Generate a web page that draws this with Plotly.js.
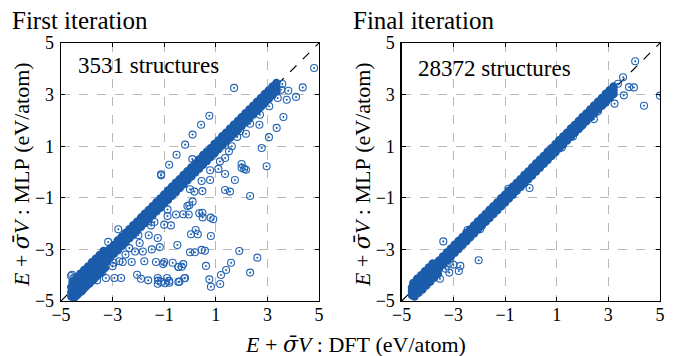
<!DOCTYPE html>
<html><head><meta charset="utf-8">
<script src="https://cdn.plot.ly/plotly-3.0.1.min.js"></script>
<style>html,body{margin:0;padding:0;background:#fff}</style>
</head><body><div id="chart" style="width:678px;height:356px"></div>
<script>
// ---- tick labels ----
const tickVals = [-5, -3, -1, 1, 3, 5];
const tickText = ['\u22125', '\u22123', '\u22121', '1', '3', '5'];

// ---- First iteration: dense diagonal band ----
const firstBandX = [-4.60,-4.45,-4.30,-4.15,-4.00,-3.85,-3.70,-3.55,-3.40,-3.25,-3.10,-2.95,-2.80,-2.65,-2.50,-2.35,-2.20,-2.05,-1.90,-1.75,-1.60,-1.45,-1.30,-1.15,-1.00,-0.85,-0.70,-0.55,-0.40,-0.25,-0.10,0.05,0.20,0.35,0.50,0.65,0.80,0.95,1.10,1.25,1.40,1.55,1.70,1.85,2.00,2.15,2.30,2.45,2.60,2.75,2.90,3.05,3.20,3.35];
const firstBandUpperY = [-4.46,-4.30,-4.15,-4.02,-3.86,-3.70,-3.56,-3.42,-3.27,-3.12,-2.97,-2.83,-2.66,-2.52,-2.37,-2.22,-2.07,-1.93,-1.77,-1.62,-1.47,-1.33,-1.17,-1.03,-0.87,-0.72,-0.57,-0.42,-0.28,-0.12,0.03,0.17,0.33,0.48,0.62,0.78,0.92,1.08,1.22,1.38,1.52,1.67,1.83,1.97,2.12,2.28,2.42,2.57,2.72,2.87,3.02,3.16,3.31,3.45];
const firstBandMidY = [-4.66,-4.50,-4.36,-4.20,-4.06,-3.90,-3.76,-3.60,-3.45,-3.31,-3.15,-3.00,-2.86,-2.70,-2.55,-2.41,-2.25,-2.10,-1.96,-1.80,-1.65,-1.51,-1.35,-1.20,-1.06,-0.90,-0.75,-0.61,-0.45,-0.30,-0.16,0.00,0.15,0.29,0.45,0.60,0.74,0.90,1.05,1.19,1.35,1.50,1.64,1.80,1.95,2.09,2.25,2.40,2.54,2.70,2.85,2.99,3.15,3.28];
const firstBandLowerY = [-4.82,-4.68,-4.52,-4.38,-4.22,-4.08,-3.92,-3.77,-3.62,-3.48,-3.32,-3.17,-3.03,-2.87,-2.72,-2.57,-2.43,-2.27,-2.12,-1.98,-1.82,-1.67,-1.52,-1.38,-1.22,-1.07,-0.92,-0.78,-0.62,-0.47,-0.32,-0.17,-0.02,0.13,0.28,0.43,0.58,0.73,0.88,1.03,1.18,1.33,1.48,1.63,1.78,1.93,2.08,2.23,2.38,2.53,2.68,2.83,2.98,3.12];
const firstBandX2 = [-4.53,-4.38,-4.23,-4.08,-3.93,-3.78,-3.63,-3.48,-3.33,-3.18,-3.03,-2.88,-2.73,-2.58,-2.43,-2.28,-2.13,-1.98,-1.83,-1.68,-1.53,-1.38,-1.23,-1.08,-0.93,-0.78,-0.63,-0.48,-0.33,-0.18,-0.03,0.12,0.27,0.42,0.57,0.72,0.87,1.02,1.17,1.32,1.47,1.62,1.77,1.92,2.07,2.22,2.37,2.52,2.67,2.82,2.97,3.12,3.27];
const firstBandUpperMidY = [-4.49,-4.34,-4.19,-4.04,-3.89,-3.74,-3.59,-3.44,-3.29,-3.14,-2.99,-2.84,-2.69,-2.54,-2.39,-2.24,-2.09,-1.94,-1.79,-1.64,-1.49,-1.34,-1.19,-1.04,-0.89,-0.74,-0.59,-0.44,-0.29,-0.14,0.01,0.16,0.31,0.46,0.61,0.76,0.91,1.06,1.21,1.36,1.51,1.66,1.81,1.96,2.11,2.26,2.41,2.56,2.71,2.86,3.01,3.16,3.31];
const firstBandLowerMidY = [-4.66,-4.51,-4.36,-4.21,-4.06,-3.91,-3.76,-3.61,-3.46,-3.31,-3.16,-3.01,-2.86,-2.71,-2.56,-2.41,-2.26,-2.11,-1.96,-1.81,-1.66,-1.51,-1.36,-1.21,-1.06,-0.91,-0.76,-0.61,-0.46,-0.31,-0.16,-0.01,0.14,0.29,0.44,0.59,0.74,0.89,1.04,1.19,1.34,1.49,1.64,1.79,1.94,2.09,2.24,2.39,2.54,2.69,2.84,2.99,3.14];
const firstLowEndX = [-4.50,-4.35,-4.20,-4.05,-3.90,-3.75,-3.60,-3.45,-3.30,-4.55,-4.40,-4.25,-4.10,-3.95,-3.80,-3.65,-3.50,-3.35,-4.42,-4.28,-4.12,-3.98,-3.82,-3.68,-3.52];
const firstLowEndY = [-4.88,-4.74,-4.62,-4.45,-4.32,-4.17,-4.02,-3.86,-3.72,-4.25,-4.08,-3.95,-3.80,-3.66,-3.50,-3.36,-3.22,-3.06,-4.80,-4.66,-4.52,-4.38,-4.22,-4.08,-3.94];

// ---- First iteration: scattered structures ----
const firstOutX = [1.71,4.81,4.37,4.11,3.81,3.58,3.53,3.75,3.40,3.07,3.62,3.36,3.06,2.71,2.69,2.33,2.17,1.83,1.94,1.62,1.51,1.36,1.16,2.78,2.97,2.00,2.17,1.10,0.75,0.43,0.10,-0.19,-0.52,-0.81,0.09,0.52,0.78,-1.12,2.00,2.10,1.74,1.36,1.36,1.55,2.33,0.78,0.45,0.48,0.17,0.00,0.10,-0.10,-0.26,0.48,0.49,0.90,0.81,0.22,0.04,0.30,-0.49,0.00,0.19,0.45,0.58,1.91,2.61,1.59,1.40,1.20,1.17,2.33,0.62,0.75,0.81,-0.26,-0.45,-0.22,-0.41,-0.81,-1.04,-1.23,-0.97,-3.17,-2.78,-2.00,-1.62,-1.25,-1.17,-1.48,-1.83,-2.13,-2.26,-2.61,-2.74,-2.96,-1.77,-1.32,-1.00,-0.67,-0.45,-2.05,-2.93,-3.26,-2.67,-1.90,-1.62,-1.25,-1.12,-1.25,-0.89,-0.80,-0.45,-0.19,-3.71,-4.12,-4.57,-4.61,-0.03,-0.05,-0.54,-0.87,-0.87,-0.74,-1.00,-1.38,-1.51,0.36,0.80,-0.32,-1.12,-2.35,-1.95,-1.60,-2.50,-3.00,-3.40,-3.90,-4.20,-3.60];
const firstOutY = [3.26,4.03,3.28,2.91,3.15,3.41,3.19,2.80,2.87,2.55,2.13,1.71,1.35,2.22,1.83,1.87,1.48,1.36,1.58,1.00,0.80,0.54,0.41,0.93,0.22,0.16,0.09,0.12,2.18,1.83,1.45,1.06,0.67,0.28,0.50,0.67,0.07,-0.09,0.31,0.12,-0.31,-0.08,-0.70,-0.76,-0.93,-0.31,-0.35,-0.74,-0.76,-0.67,-1.15,-1.32,-1.64,-1.58,-1.76,-1.83,-2.48,-2.25,-2.41,-2.41,-2.83,-3.11,-3.11,-3.02,-3.05,-3.06,-3.32,-3.52,-3.80,-3.99,-4.34,-3.90,-3.64,-4.16,-4.45,-3.57,-3.67,-4.12,-4.25,-4.22,-3.57,-4.21,-4.31,-2.71,-2.22,-2.45,-1.91,-2.56,-2.91,-3.00,-3.08,-3.08,-3.49,-3.49,-3.46,-3.52,-3.46,-3.49,-3.49,-3.52,-3.68,-3.98,-4.11,-4.11,-4.11,-4.14,-4.20,-4.11,-4.26,-4.33,-4.11,-4.29,-4.26,-4.11,-3.88,-3.85,-3.98,-4.03,-1.29,-1.65,-1.65,-1.45,-1.71,-2.07,-2.04,-1.94,-2.07,-1.60,-1.77,-3.67,-0.13,-2.95,-2.75,-2.45,-3.20,-3.65,-3.90,-4.30,-4.50,-4.20];

// ---- Final iteration: dense diagonal band ----
const finalBandX = [-4.60,-4.45,-4.30,-4.15,-4.00,-3.85,-3.70,-3.55,-3.40,-3.25,-3.10,-2.95,-2.80,-2.65,-2.50,-2.35,-2.20,-2.05,-1.90,-1.75,-1.60,-1.45,-1.30,-1.15,-1.00,-0.85,-0.70,-0.55,-0.40,-0.25,-0.10,0.05,0.20,0.35,0.50,0.65,0.80,0.95,1.10,1.25,1.40,1.55,1.70,1.85,2.00,2.15,2.30,2.45,2.60,2.75,2.90,3.05,3.20];
const finalBandUpperY = [-4.48,-4.33,-4.17,-4.03,-3.87,-3.73,-3.57,-3.43,-3.28,-3.12,-2.98,-2.82,-2.68,-2.53,-2.37,-2.23,-2.08,-1.92,-1.78,-1.63,-1.47,-1.33,-1.18,-1.02,-0.88,-0.73,-0.57,-0.43,-0.28,-0.12,0.02,0.17,0.33,0.47,0.62,0.78,0.92,1.07,1.23,1.37,1.52,1.68,1.82,1.97,2.13,2.27,2.42,2.58,2.72,2.87,3.03,3.17,3.31];
const finalBandMidY = [-4.63,-4.48,-4.33,-4.18,-4.03,-3.88,-3.73,-3.58,-3.43,-3.28,-3.13,-2.98,-2.83,-2.68,-2.53,-2.38,-2.23,-2.08,-1.93,-1.78,-1.63,-1.48,-1.33,-1.18,-1.03,-0.88,-0.73,-0.58,-0.43,-0.28,-0.13,0.02,0.17,0.32,0.47,0.62,0.77,0.92,1.07,1.22,1.37,1.52,1.67,1.82,1.97,2.12,2.27,2.42,2.57,2.72,2.87,3.02,3.17];
const finalBandLowerY = [-4.78,-4.63,-4.48,-4.33,-4.18,-4.03,-3.88,-3.73,-3.58,-3.43,-3.28,-3.13,-2.98,-2.83,-2.68,-2.53,-2.38,-2.23,-2.08,-1.93,-1.78,-1.63,-1.48,-1.33,-1.18,-1.03,-0.88,-0.73,-0.58,-0.43,-0.28,-0.13,0.02,0.17,0.32,0.47,0.62,0.77,0.92,1.07,1.22,1.37,1.52,1.67,1.82,1.97,2.12,2.27,2.42,2.57,2.72,2.87,3.02];
const finalBandX2 = [-4.53,-4.38,-4.23,-4.08,-3.93,-3.78,-3.63,-3.48,-3.33,-3.18,-3.03,-2.88,-2.73,-2.58,-2.43,-2.28,-2.13,-1.98,-1.83,-1.68,-1.53,-1.38,-1.23,-1.08,-0.93,-0.78,-0.63,-0.48,-0.33,-0.18,-0.03,0.12,0.27,0.42,0.57,0.72,0.87,1.02,1.17,1.32,1.47,1.62,1.77,1.92,2.07,2.22,2.37,2.52,2.67,2.82,2.97,3.12];
const finalBandUpperMidY = [-4.48,-4.33,-4.18,-4.03,-3.88,-3.73,-3.58,-3.43,-3.28,-3.13,-2.98,-2.83,-2.68,-2.53,-2.38,-2.23,-2.08,-1.93,-1.78,-1.63,-1.48,-1.33,-1.18,-1.03,-0.88,-0.73,-0.58,-0.43,-0.28,-0.13,0.02,0.17,0.32,0.47,0.62,0.77,0.92,1.07,1.22,1.37,1.52,1.67,1.82,1.97,2.12,2.27,2.42,2.57,2.72,2.87,3.02,3.17];
const finalBandLowerMidY = [-4.63,-4.48,-4.33,-4.18,-4.03,-3.88,-3.73,-3.58,-3.43,-3.28,-3.13,-2.98,-2.83,-2.68,-2.53,-2.38,-2.23,-2.08,-1.93,-1.78,-1.63,-1.48,-1.33,-1.18,-1.03,-0.88,-0.73,-0.58,-0.43,-0.28,-0.13,0.02,0.17,0.32,0.47,0.62,0.77,0.92,1.07,1.22,1.37,1.52,1.67,1.82,1.97,2.12,2.27,2.42,2.57,2.72,2.87,3.02];
const finalLowEndX = [-4.50,-4.35,-4.20,-4.05,-3.90,-3.75,-3.60,-4.55,-4.40,-4.25,-4.10,-3.95,-3.80];
const finalLowEndY = [-4.82,-4.68,-4.55,-4.40,-4.25,-4.10,-3.95,-4.30,-4.14,-4.00,-3.85,-3.70,-3.55];

// ---- Final iteration: scattered structures ----
const finalOutX = [4.04,3.57,3.37,3.80,3.99,3.60,3.24,4.38,5.00,2.88,2.60,2.44,1.95,1.63,1.20,-0.05,-0.87,-1.97,-2.45,-2.40,-3.39,-2.02,-2.73,-3.00,-3.18,-2.79,-3.16,-3.52,-3.75,-3.30];
const finalOutY = [4.29,3.67,3.42,3.29,3.28,2.97,2.65,2.57,2.96,2.67,2.35,2.05,1.77,1.38,0.95,-0.62,-0.65,-2.22,-2.25,-2.55,-2.69,-3.42,-3.64,-3.59,-3.55,-3.84,-3.90,-4.14,-4.00,-3.75];

const markerColor = '#2363b4';
const bandColor = '#1b5cab';
const mkOut = {symbol: 'circle-open-dot', size: 7, color: markerColor, line: {width: 1.1, color: markerColor}};
const mkBand = {symbol: 'circle-open-dot', size: 6, color: bandColor, line: {width: 2.6, color: bandColor}};

const firstBX = [].concat(firstBandX, firstBandX, firstBandX, firstBandX2, firstBandX2, firstLowEndX);
const firstBY = [].concat(firstBandUpperY, firstBandMidY, firstBandLowerY, firstBandUpperMidY, firstBandLowerMidY, firstLowEndY);
const finalBX = [].concat(finalBandX, finalBandX, finalBandX, finalBandX2, finalBandX2, finalLowEndX);
const finalBY = [].concat(finalBandUpperY, finalBandMidY, finalBandLowerY, finalBandUpperMidY, finalBandLowerMidY, finalLowEndY);

const traces = [
  {type: 'scatter', mode: 'markers', x: firstOutX, y: firstOutY, xaxis: 'x', yaxis: 'y', marker: mkOut, hoverinfo: 'skip'},
  {type: 'scatter', mode: 'markers', x: firstBX, y: firstBY, xaxis: 'x', yaxis: 'y', marker: mkBand, hoverinfo: 'skip'},
  {type: 'scatter', mode: 'markers', x: finalOutX, y: finalOutY, xaxis: 'x2', yaxis: 'y2', marker: mkOut, hoverinfo: 'skip'},
  {type: 'scatter', mode: 'markers', x: finalBX, y: finalBY, xaxis: 'x2', yaxis: 'y2', marker: mkBand, hoverinfo: 'skip'}
];

const W = 678, H = 356;
const FONT = 'Liberation Serif';
function ax(domain, anchor, isX) {
  return {domain: domain, anchor: anchor, range: [-5, 5], tickmode: 'array', tickvals: tickVals, ticktext: tickText,
    ticks: 'inside', ticklen: 4, tickwidth: 1, tickcolor: '#000', mirror: 'ticks', showline: true,
    linecolor: '#000', linewidth: 1.3, showgrid: true, gridcolor: '#b8b8b8', griddash: 'dash', gridwidth: 1,
    zeroline: false, ticklabelstandoff: isX ? -3 : 2, tickfont: {family: FONT, size: 18, color: '#000'}, fixedrange: true};
}
const yDom = [1 - 301 / H, 1 - 43 / H];
const S = '\u00a0';
const sigmaBar = '<span style="font-family:DejaVu Serif">\u03c3\u0304</span>';
const yTitle = '<i>E</i>' + S + '+' + S + '<i>' + sigmaBar + 'V</i>' + S + ':' + S + 'MLP' + S + '(eV/atom)';
const xTitle = '<i>E</i>' + S + '+' + S + '<i>' + sigmaBar + 'V</i>' + S + ':' + S + 'DFT' + S + '(eV/atom)';
const layout = {
  width: W, height: H, margin: {l: 0, r: 0, t: 0, b: 0}, showlegend: false,
  paper_bgcolor: '#fff', plot_bgcolor: '#fff',
  xaxis: ax([61 / W, 319 / W], 'y', true),
  yaxis: ax(yDom, 'x', false),
  xaxis2: ax([401.7 / W, 660 / W], 'y2', true),
  yaxis2: ax(yDom, 'x2', false),
  shapes: [
    {type: 'line', xref: 'x', yref: 'y', x0: -5, y0: -5, x1: 5, y1: 5, layer: 'below', line: {color: '#000', width: 1.2, dash: 'dash'}},
    {type: 'line', xref: 'x2', yref: 'y2', x0: -5, y0: -5, x1: 5, y1: 5, layer: 'below', line: {color: '#000', width: 1.2, dash: 'dash'}}
  ],
  annotations: [
    {xref: 'paper', yref: 'paper', x: 10 / W, y: 1 - 21 / H, xanchor: 'left', yanchor: 'middle', showarrow: false, text: 'First iteration', font: {family: FONT, size: 25, color: '#000'}},
    {xref: 'paper', yref: 'paper', x: 351 / W, y: 1 - 21 / H, xanchor: 'left', yanchor: 'middle', showarrow: false, text: 'Final iteration', font: {family: FONT, size: 25, color: '#000'}},
    {xref: 'paper', yref: 'paper', x: 76 / W, y: 1 - 65 / H, xanchor: 'left', yanchor: 'middle', showarrow: false, text: '3531 structures', font: {family: FONT, size: 23, color: '#000'}},
    {xref: 'paper', yref: 'paper', x: 416 / W, y: 1 - 68 / H, xanchor: 'left', yanchor: 'middle', showarrow: false, text: '28372 structures', font: {family: FONT, size: 23, color: '#000'}},
    {xref: 'paper', yref: 'paper', x: 21 / W, y: 1 - 175 / H, xanchor: 'center', yanchor: 'middle', textangle: -90, showarrow: false, text: yTitle, font: {family: FONT, size: 22, color: '#000'}},
    {xref: 'paper', yref: 'paper', x: 362 / W, y: 1 - 175 / H, xanchor: 'center', yanchor: 'middle', textangle: -90, showarrow: false, text: yTitle, font: {family: FONT, size: 22, color: '#000'}},
    {xref: 'paper', yref: 'paper', x: 355 / W, y: 1 - 344 / H, xanchor: 'center', yanchor: 'middle', showarrow: false, text: xTitle, font: {family: FONT, size: 22, color: '#000'}}
  ]
};
Plotly.newPlot('chart', traces, layout, {staticPlot: true, displayModeBar: false});
</script></body></html>
